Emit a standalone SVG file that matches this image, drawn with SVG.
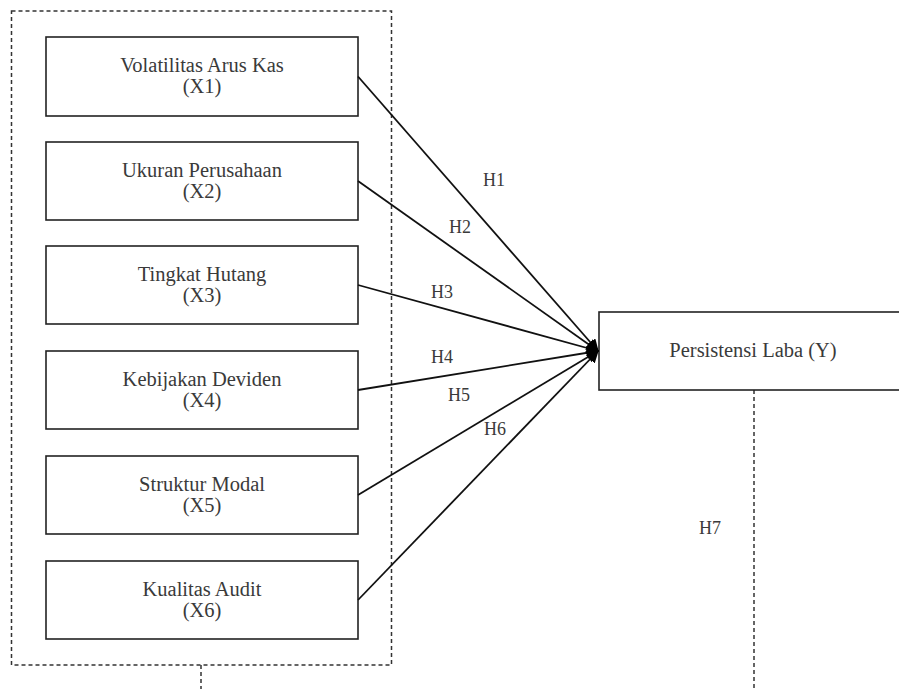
<svg xmlns="http://www.w3.org/2000/svg" width="899" height="689" viewBox="0 0 899 689">
<style>
.box{fill:#fff;stroke:#222;stroke-width:1.6}
.dash{fill:none;stroke:#333;stroke-width:1.5;stroke-dasharray:4 3}
text{font-family:'Liberation Serif','Times New Roman',serif;fill:#3a3a3a;text-anchor:middle}
.t{font-size:20.5px}
.h{font-size:18px}
.c{stroke:#111;stroke-width:1.8;fill:none;marker-end:url(#arr)}
</style>
<defs>
<marker id="arr" viewBox="0 0 10 10" refX="9" refY="5" markerWidth="7" markerHeight="7" orient="auto" markerUnits="strokeWidth">
<path d="M0,0 L10,5 L0,10 z" fill="#000"/>
</marker>
</defs>
<rect class="dash" x="11.5" y="11" width="380" height="654"/>
<line class="dash" x1="201" y1="665" x2="201" y2="689"/>
<line class="dash" x1="754" y1="390" x2="754" y2="689"/>
<g id="x1"><rect class="box" x="46" y="37" width="312" height="79"/><text class="t" x="202" y="72">Volatilitas Arus Kas</text><text class="t" x="202" y="93">(X1)</text></g>
<g id="x2"><rect class="box" x="46" y="142" width="312" height="78"/><text class="t" x="202" y="177">Ukuran Perusahaan</text><text class="t" x="202" y="198">(X2)</text></g>
<g id="x3"><rect class="box" x="46" y="246" width="312" height="78"/><text class="t" x="202" y="281">Tingkat Hutang</text><text class="t" x="202" y="302">(X3)</text></g>
<g id="x4"><rect class="box" x="46" y="351" width="312" height="78"/><text class="t" x="202" y="386">Kebijakan Deviden</text><text class="t" x="202" y="407">(X4)</text></g>
<g id="x5"><rect class="box" x="46" y="456" width="312" height="78"/><text class="t" x="202" y="491">Struktur Modal</text><text class="t" x="202" y="512">(X5)</text></g>
<g id="x6"><rect class="box" x="46" y="561" width="312" height="78"/><text class="t" x="202" y="596">Kualitas Audit</text><text class="t" x="202" y="617">(X6)</text></g>
<g id="y"><rect class="box" x="599" y="312" width="310" height="78"/><text class="t" x="753" y="357">Persistensi Laba (Y)</text></g>
<g id="connectors">
<line class="c" x1="358" y1="76.5" x2="598" y2="351"/>
<line class="c" x1="358" y1="181" x2="598" y2="351"/>
<line class="c" x1="358" y1="285" x2="598" y2="351"/>
<line class="c" x1="358" y1="390" x2="598" y2="351"/>
<line class="c" x1="358" y1="495" x2="598" y2="351"/>
<line class="c" x1="358" y1="600" x2="598" y2="351"/>
</g>
<g id="labels">
<text class="h" x="494" y="186">H1</text>
<text class="h" x="460" y="233">H2</text>
<text class="h" x="442" y="298">H3</text>
<text class="h" x="442" y="363">H4</text>
<text class="h" x="459" y="401">H5</text>
<text class="h" x="495" y="435">H6</text>
<text class="h" x="710" y="534">H7</text>
</g>
</svg>
